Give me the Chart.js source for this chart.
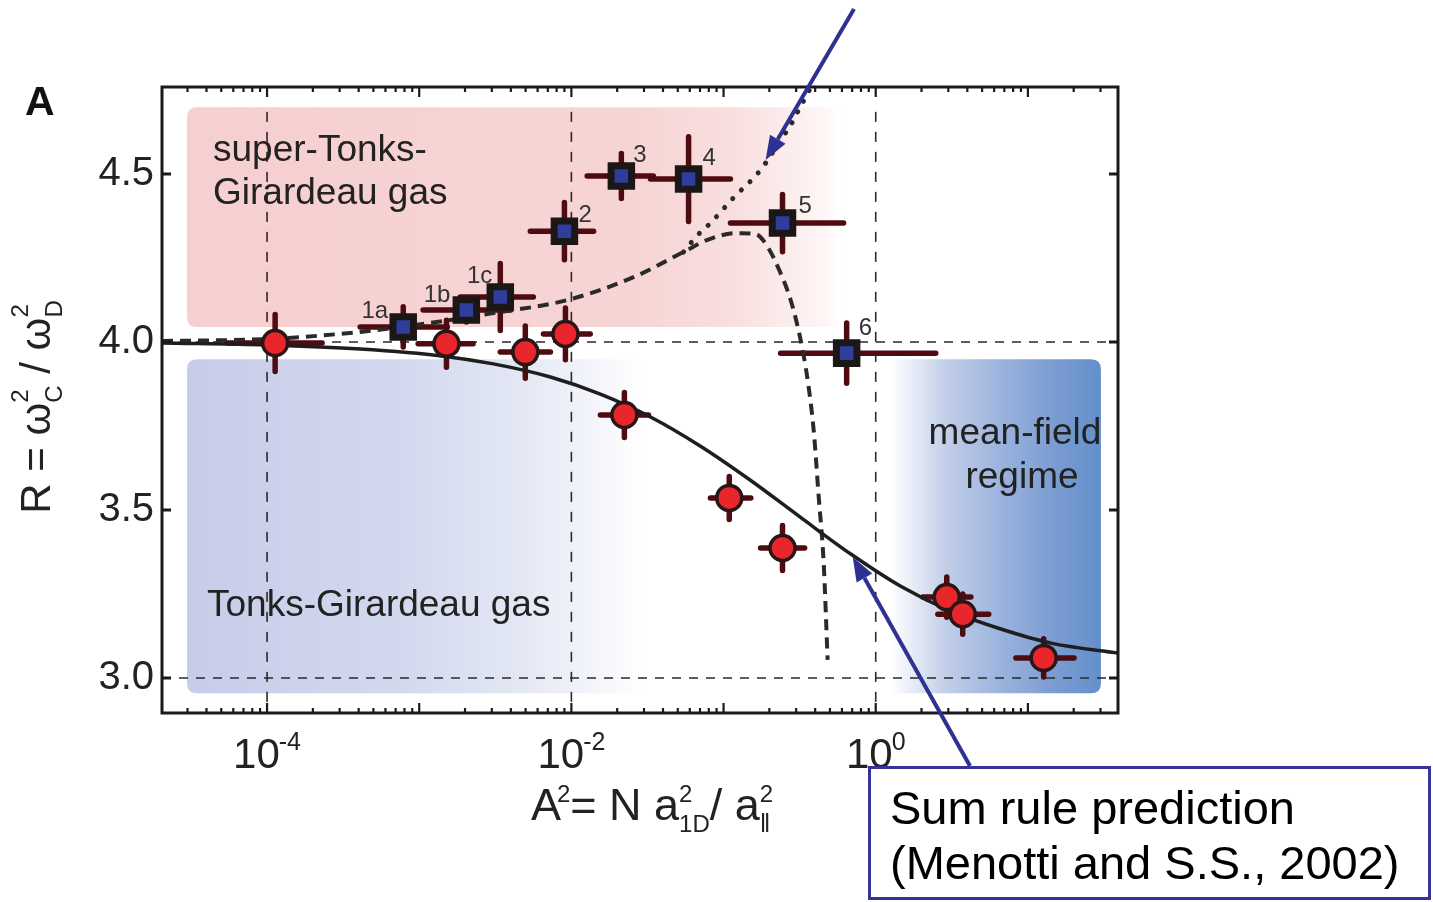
<!DOCTYPE html>
<html lang="en">
  <head>
    <meta charset="UTF-8" />
    <title>Breathing mode ratio R vs A2</title>
    <script src="https://cdn.jsdelivr.net/npm/chart.js@4"></script>
    <style>
      html, body { margin: 0; padding: 0; background: #fff; }
      canvas { display: block; }
    </style>
  </head>
  <body>
    <canvas id="ratioChart" width="1433" height="902"></canvas>
    <script>
      // Tonks-Girardeau gas measurements (red circles)
      const tgX = [1.13e-4, 1.51e-3, 4.98e-3, 9.14e-3, 2.23e-2, 0.109, 0.244, 2.93, 3.73, 12.7];
      const tgR = [3.997, 3.995, 3.970, 4.024, 3.783, 3.536, 3.387, 3.241, 3.190, 3.060];
      const tgXLo = [5.46e-5, 9.84e-4, 3.41e-3, 6.55e-3, 1.55e-2, 8.2e-2, 0.175, 2.04, 2.56, 8.34];
      const tgXHi = [2.3e-4, 2.26e-3, 7.28e-3, 1.33e-2, 3.21e-2, 0.151, 0.341, 4.22, 5.53, 20.1];
      const tgRErr = [0.085, 0.07, 0.078, 0.077, 0.067, 0.064, 0.067, 0.06, 0.06, 0.057];

      // super-Tonks-Girardeau measurements (blue squares)
      const stgLabels = ["1a", "1b", "1c", "2", "3", "4", "5", "6"];
      const stgX = [7.85e-4, 2.04e-3, 3.41e-3, 9.0e-3, 2.13e-2, 5.89e-2, 0.244, 0.644];
      const stgR = [4.045, 4.095, 4.134, 4.33, 4.494, 4.485, 4.354, 3.967];
      const stgXLo = [4.09e-4, 1.06e-3, 1.86e-3, 5.37e-3, 1.27e-2, 3.31e-2, 0.111, 0.237];
      const stgXHi = [1.53e-3, 3.97e-3, 5.62e-3, 1.4e-2, 3.46e-2, 0.111, 0.615, 2.48];
      const stgRErr = [0.06, 0.035, 0.1, 0.085, 0.067, 0.126, 0.085, 0.09];

      // sum rule prediction (solid)
      const sumRuleX = [2.04e-5, 1.0e-4, 4.09e-4, 1.44e-3, 3.07e-3, 7.28e-3, 1.55e-2, 3.31e-2, 7.06e-2,
        0.151, 0.321, 0.686, 1.46, 3.11, 6.64, 14.2, 39.7];
      const sumRuleR = [3.997, 3.991, 3.979, 3.958, 3.935, 3.896, 3.845, 3.777, 3.69,
        3.588, 3.478, 3.369, 3.273, 3.199, 3.146, 3.104, 3.074];

      // attractive-branch theory (dashed)
      const stgCurveX = [2.04e-5, 1.0e-4, 4.09e-4, 1.18e-3, 3.07e-3, 9.42e-3, 2.56e-2, 5.46e-2, 7.85e-2,
        0.12, 0.163, 0.195, 0.237, 0.276, 0.321, 0.357, 0.391, 0.422, 0.455, 0.483];
      const stgCurveR = [4.003, 4.009, 4.03, 4.057, 4.086, 4.125, 4.193, 4.268, 4.304,
        4.324, 4.321, 4.283, 4.205, 4.125, 4.006, 3.887, 3.738, 3.539, 3.342, 3.054];

      // upper branch (dotted)
      const upperX = [5.46e-2, 6.75e-2, 8.2e-2, 0.116, 0.175, 0.237, 0.276, 0.316, 0.373];
      const upperR = [4.268, 4.318, 4.354, 4.429, 4.512, 4.601, 4.646, 4.696, 4.756];

      // axes
      const xMin = 2.04e-5, xMax = 39.1;
      const yMin = 2.896, yMax = 4.759;
      const yTicks = [3.0, 3.5, 4.0, 4.5];
      const xLabelDecades = [1e-4, 1e-2, 1];
      const refLinesX = [1e-4, 1e-2, 1];
      const refLinesY = [3.0, 4.0];

      // shaded regimes, in data units
      const upperBand = { x0: 2.98e-5, x1: 30.2, y0: 4.045, y1: 4.699 };
      const lowerBand = { x0: 2.98e-5, x1: 30.2, y0: 2.955, y1: 3.949 };

      const FAMILY = '"Liberation Sans", Arial, Helvetica, sans-serif';
      const font = (size, weight) => `${weight || "normal"} ${size}px ${FAMILY}`;
      const INK = "#222";
      const BAR = "#4e0b10";
      const ARROW = "#2e3192";

      function pts(xs, ys) {
        return xs.map((x, i) => ({ x, y: ys[i] }));
      }

      function roundedRect(ctx, x, y, w, h, r) {
        ctx.beginPath();
        ctx.moveTo(x + r, y);
        ctx.lineTo(x + w - r, y);
        ctx.quadraticCurveTo(x + w, y, x + w, y + r);
        ctx.lineTo(x + w, y + h - r);
        ctx.quadraticCurveTo(x + w, y + h, x + w - r, y + h);
        ctx.lineTo(x + r, y + h);
        ctx.quadraticCurveTo(x, y + h, x, y + h - r);
        ctx.lineTo(x, y + r);
        ctx.quadraticCurveTo(x, y, x + r, y);
        ctx.closePath();
      }

      // text made of runs; "over" runs are drawn without advancing (sup above sub)
      function drawRuns(ctx, runs, x, y, align) {
        let total = 0, pend = 0;
        for (const r of runs) {
          ctx.font = font(r.size);
          const w = ctx.measureText(r.t).width + (r.dx || 0);
          if (r.over) pend = w;
          else { total += Math.max(w, pend); pend = 0; }
        }
        let cx = align === "center" ? x - total / 2 : x;
        pend = 0;
        ctx.textAlign = "left";
        ctx.textBaseline = "alphabetic";
        for (const r of runs) {
          ctx.font = font(r.size);
          const w = ctx.measureText(r.t).width + (r.dx || 0);
          ctx.fillText(r.t, cx + (r.dx || 0), y + (r.dy || 0));
          if (r.over) pend = w;
          else { cx += Math.max(w, pend); pend = 0; }
        }
      }

      function arrow(ctx, x0, y0, x1, y1) {
        const a = Math.atan2(y1 - y0, x1 - x0);
        const len = 24, half = 9;
        const bx = x1 - len * Math.cos(a), by = y1 - len * Math.sin(a);
        ctx.strokeStyle = ARROW;
        ctx.fillStyle = ARROW;
        ctx.lineWidth = 4;
        ctx.beginPath();
        ctx.moveTo(x0, y0);
        ctx.lineTo(bx, by);
        ctx.stroke();
        ctx.beginPath();
        ctx.moveTo(x1, y1);
        ctx.lineTo(bx + half * Math.sin(a), by - half * Math.cos(a));
        ctx.lineTo(bx - half * Math.sin(a), by + half * Math.cos(a));
        ctx.closePath();
        ctx.fill();
      }

      function bandGradient(ctx, x0, x1, stops) {
        const g = ctx.createLinearGradient(x0, 0, x1, 0);
        stops.forEach(([o, c]) => g.addColorStop(o, c));
        return g;
      }

      function errorBars(ctx, xs, ys, lo, hi, err, sx, sy) {
        ctx.strokeStyle = BAR;
        ctx.lineWidth = 5.5;
        ctx.lineCap = "round";
        xs.forEach((x, i) => {
          const px = sx.getPixelForValue(x), py = sy.getPixelForValue(ys[i]);
          ctx.beginPath();
          ctx.moveTo(sx.getPixelForValue(lo[i]), py);
          ctx.lineTo(sx.getPixelForValue(hi[i]), py);
          ctx.moveTo(px, sy.getPixelForValue(ys[i] + err[i]));
          ctx.lineTo(px, sy.getPixelForValue(ys[i] - err[i]));
          ctx.stroke();
        });
      }

      const figurePlugin = {
        id: "figure",
        beforeDatasetsDraw(chart) {
          const { ctx, chartArea: a } = chart;
          const sx = chart.scales.x, sy = chart.scales.y;
          ctx.save();

          // shaded regimes
          const bx0 = sx.getPixelForValue(upperBand.x0), bx1 = sx.getPixelForValue(upperBand.x1);
          ctx.fillStyle = bandGradient(ctx, bx0, bx1, [
            [0, "#f6cfd0"], [0.5, "#f7d5d5"], [0.6, "#f9dfdf"], [0.7, "#fef6f6"], [0.72, "rgba(255,255,255,0)"], [1, "rgba(255,255,255,0)"],
          ]);
          roundedRect(ctx, bx0, sy.getPixelForValue(upperBand.y1), bx1 - bx0,
            sy.getPixelForValue(upperBand.y0) - sy.getPixelForValue(upperBand.y1), 10);
          ctx.fill();

          const lx0 = sx.getPixelForValue(lowerBand.x0), lx1 = sx.getPixelForValue(lowerBand.x1);
          ctx.fillStyle = bandGradient(ctx, lx0, lx1, [
            [0, "#c7cde9"], [0.23, "#d2d8ee"], [0.36, "#e3e7f4"], [0.45, "#f5f6fb"], [0.5, "#ffffff"],
            [0.77, "#ffffff"], [0.83, "#c2cfe8"], [0.89, "#9bb3dd"], [0.95, "#7a9cd2"], [1, "#6390cb"],
          ]);
          roundedRect(ctx, lx0, sy.getPixelForValue(lowerBand.y1), lx1 - lx0,
            sy.getPixelForValue(lowerBand.y0) - sy.getPixelForValue(lowerBand.y1), 10);
          ctx.fill();

          // dashed reference lines
          ctx.strokeStyle = "#2a2a2a";
          ctx.lineWidth = 1.6;
          ctx.setLineDash([9, 8]);
          refLinesY.forEach((v) => {
            const y = sy.getPixelForValue(v);
            ctx.beginPath();
            ctx.moveTo(a.left, y);
            ctx.lineTo(a.right, y);
            ctx.stroke();
          });
          ctx.setLineDash([10, 10]);
          refLinesX.forEach((v) => {
            const x = sx.getPixelForValue(v);
            ctx.beginPath();
            ctx.moveTo(x, sy.getPixelForValue(4.685));
            ctx.lineTo(x, a.bottom);
            ctx.stroke();
          });
          ctx.setLineDash([]);

          // error bars sit under the markers
          errorBars(ctx, tgX, tgR, tgXLo, tgXHi, tgRErr, sx, sy);
          errorBars(ctx, stgX, stgR, stgXLo, stgXHi, stgRErr, sx, sy);
          ctx.restore();
        },
        afterDatasetsDraw(chart) {
          const { ctx, chartArea: a } = chart;
          const sx = chart.scales.x, sy = chart.scales.y;
          ctx.save();

          // frame
          ctx.strokeStyle = "#1a1a1a";
          ctx.lineWidth = 3;
          ctx.strokeRect(a.left, a.top, a.right - a.left, a.bottom - a.top);

          // inward ticks
          ctx.lineWidth = 3;
          yTicks.forEach((v) => {
            const y = sy.getPixelForValue(v);
            ctx.beginPath();
            ctx.moveTo(a.left, y); ctx.lineTo(a.left + 9, y);
            ctx.moveTo(a.right, y); ctx.lineTo(a.right - 9, y);
            ctx.stroke();
          });
          ctx.lineWidth = 2.2;
          for (let e = -5; e <= 1; e++) {
            for (let m = 1; m <= 9; m++) {
              const v = m * Math.pow(10, e);
              if (v < xMin || v > xMax) continue;
              const x = sx.getPixelForValue(v);
              const len = m === 1 ? 10 : 5;
              ctx.beginPath();
              ctx.moveTo(x, a.top); ctx.lineTo(x, a.top + len);
              ctx.moveTo(x, a.bottom); ctx.lineTo(x, a.bottom - len);
              ctx.stroke();
            }
          }

          // decade labels 10^n
          ctx.fillStyle = INK;
          xLabelDecades.forEach((v) => {
            const x = sx.getPixelForValue(v);
            const exp = String(Math.round(Math.log10(v)));
            drawRuns(ctx, [
              { t: "10", size: 42 },
              { t: exp, size: 25, dy: -18, dx: -1 },
            ], x, a.bottom + 55, "center");
          });

          // axis titles
          drawRuns(ctx, [
            { t: "A", size: 45 },
            { t: "2", size: 24, dy: -18, dx: -4 },
            { t: "= N a", size: 45 },
            { t: "2", size: 24, dy: -18, over: true },
            { t: "1D", size: 24, dy: 12 },
            { t: "/ a", size: 45 },
            { t: "2", size: 24, dy: -18, over: true },
            { t: "\u2016", size: 26, dy: 12 },
          ], 652, 820, "center");

          ctx.save();
          ctx.translate(50, 407);
          ctx.rotate(-Math.PI / 2);
          drawRuns(ctx, [
            { t: "R", size: 42 },
            { t: " = ", size: 42 },
            { t: "\u03c9", size: 42 },
            { t: "2", size: 24, dy: -22, over: true },
            { t: "C", size: 24, dy: 12 },
            { t: " / ", size: 42 },
            { t: "\u03c9", size: 42 },
            { t: "2", size: 24, dy: -22, over: true },
            { t: "D", size: 24, dy: 12 },
          ], 0, 0, "center");
          ctx.restore();

          // panel letter
          ctx.font = font(41, "bold");
          ctx.textAlign = "left";
          ctx.fillStyle = "#111";
          ctx.fillText("A", 25, 115);

          // regime names
          ctx.fillStyle = INK;
          ctx.font = font(37);
          ctx.fillText("super-Tonks-", 213, 161);
          ctx.fillText("Girardeau gas", 213, 204);
          ctx.fillText("Tonks-Girardeau gas", 207, 616);
          ctx.textAlign = "center";
          ctx.fillText("mean-field", 1015, 444);
          ctx.fillText("regime", 1022, 488);

          // run labels next to the squares
          const labelOffsets = [[-15, -9], [-16, -8], [-8, -14], [14, -9], [12, -14], [14, -14], [16, -10], [12, -18]];
          ctx.font = font(24);
          ctx.fillStyle = "#333";
          stgLabels.forEach((lab, i) => {
            const [dx, dy] = labelOffsets[i];
            ctx.textAlign = dx < 0 ? "right" : "left";
            ctx.fillText(lab, sx.getPixelForValue(stgX[i]) + dx, sy.getPixelForValue(stgR[i]) + dy);
          });
          ctx.restore();
        },
        afterDraw(chart) {
          const { ctx } = chart;
          const sx = chart.scales.x, sy = chart.scales.y;
          ctx.save();
          // callouts
          arrow(ctx, 854, 9, sx.getPixelForValue(0.189), sy.getPixelForValue(4.542));
          arrow(ctx, 970, 766, sx.getPixelForValue(0.706), sy.getPixelForValue(3.36));

          ctx.fillStyle = "#fff";
          ctx.fillRect(868, 766, 562, 134);
          ctx.strokeStyle = "#333399";
          ctx.lineWidth = 3;
          ctx.strokeRect(869.5, 767.5, 560, 131);
          ctx.fillStyle = "#000";
          ctx.font = font(47);
          ctx.textAlign = "left";
          ctx.fillText("Sum rule prediction", 890, 824);
          ctx.fillText("(Menotti and S.S., 2002)", 890, 879);
          ctx.restore();
        },
      };

      const ctx = document.getElementById("ratioChart");

      new Chart(ctx, {
        type: "scatter",
        data: {
          datasets: [
            {
              label: "super-Tonks-Girardeau",
              data: pts(stgX, stgR),
              pointStyle: "rect",
              pointRadius: 14.5,
              pointBorderWidth: 7,
              pointBackgroundColor: "#2f3d9c",
              pointBorderColor: "#1c1717",
            },
            {
              label: "Tonks-Girardeau",
              data: pts(tgX, tgR),
              pointStyle: "circle",
              pointRadius: 12.5,
              pointBorderWidth: 3.5,
              pointBackgroundColor: "#e8262c",
              pointBorderColor: "#2a1616",
            },
            {
              label: "Sum rule",
              data: pts(sumRuleX, sumRuleR),
              showLine: true,
              pointRadius: 0,
              borderColor: "#1e1e1e",
              borderWidth: 3.5,
              cubicInterpolationMode: "monotone",
            },
            {
              label: "attractive branch",
              data: pts(stgCurveX, stgCurveR),
              showLine: true,
              pointRadius: 0,
              borderColor: "#2a2a2a",
              borderWidth: 4,
              borderDash: [11, 7],
              cubicInterpolationMode: "monotone",
            },
            {
              label: "upper branch",
              data: pts(upperX, upperR),
              showLine: true,
              pointRadius: 0,
              borderColor: "#2a2a2a",
              borderWidth: 5,
              borderDash: [0.1, 12],
              borderCapStyle: "round",
              cubicInterpolationMode: "monotone",
            },
          ],
        },
        options: {
          responsive: false,
          devicePixelRatio: 1,
          animation: false,
          events: [],
          layout: { padding: { top: 87, right: 315, left: 0, bottom: 0 } },
          plugins: { legend: { display: false }, tooltip: { enabled: false } },
          scales: {
            x: {
              type: "logarithmic",
              min: xMin,
              max: xMax,
              ticks: { display: false },
              grid: { display: false, drawTicks: false },
              border: { display: false },
              afterFit: (s) => { s.height = 189; },
            },
            y: {
              type: "linear",
              min: yMin,
              max: yMax,
              afterBuildTicks: (s) => { s.ticks = yTicks.map((v) => ({ value: v })); },
              ticks: {
                callback: (v) => Number(v).toFixed(1),
                font: { family: FAMILY, size: 40 },
                color: INK,
                padding: 8,
              },
              grid: { display: false, drawTicks: false },
              border: { display: false },
              afterFit: (s) => { s.width = 162; },
            },
          },
        },
        plugins: [figurePlugin],
      });
    </script>
  </body>
</html>
